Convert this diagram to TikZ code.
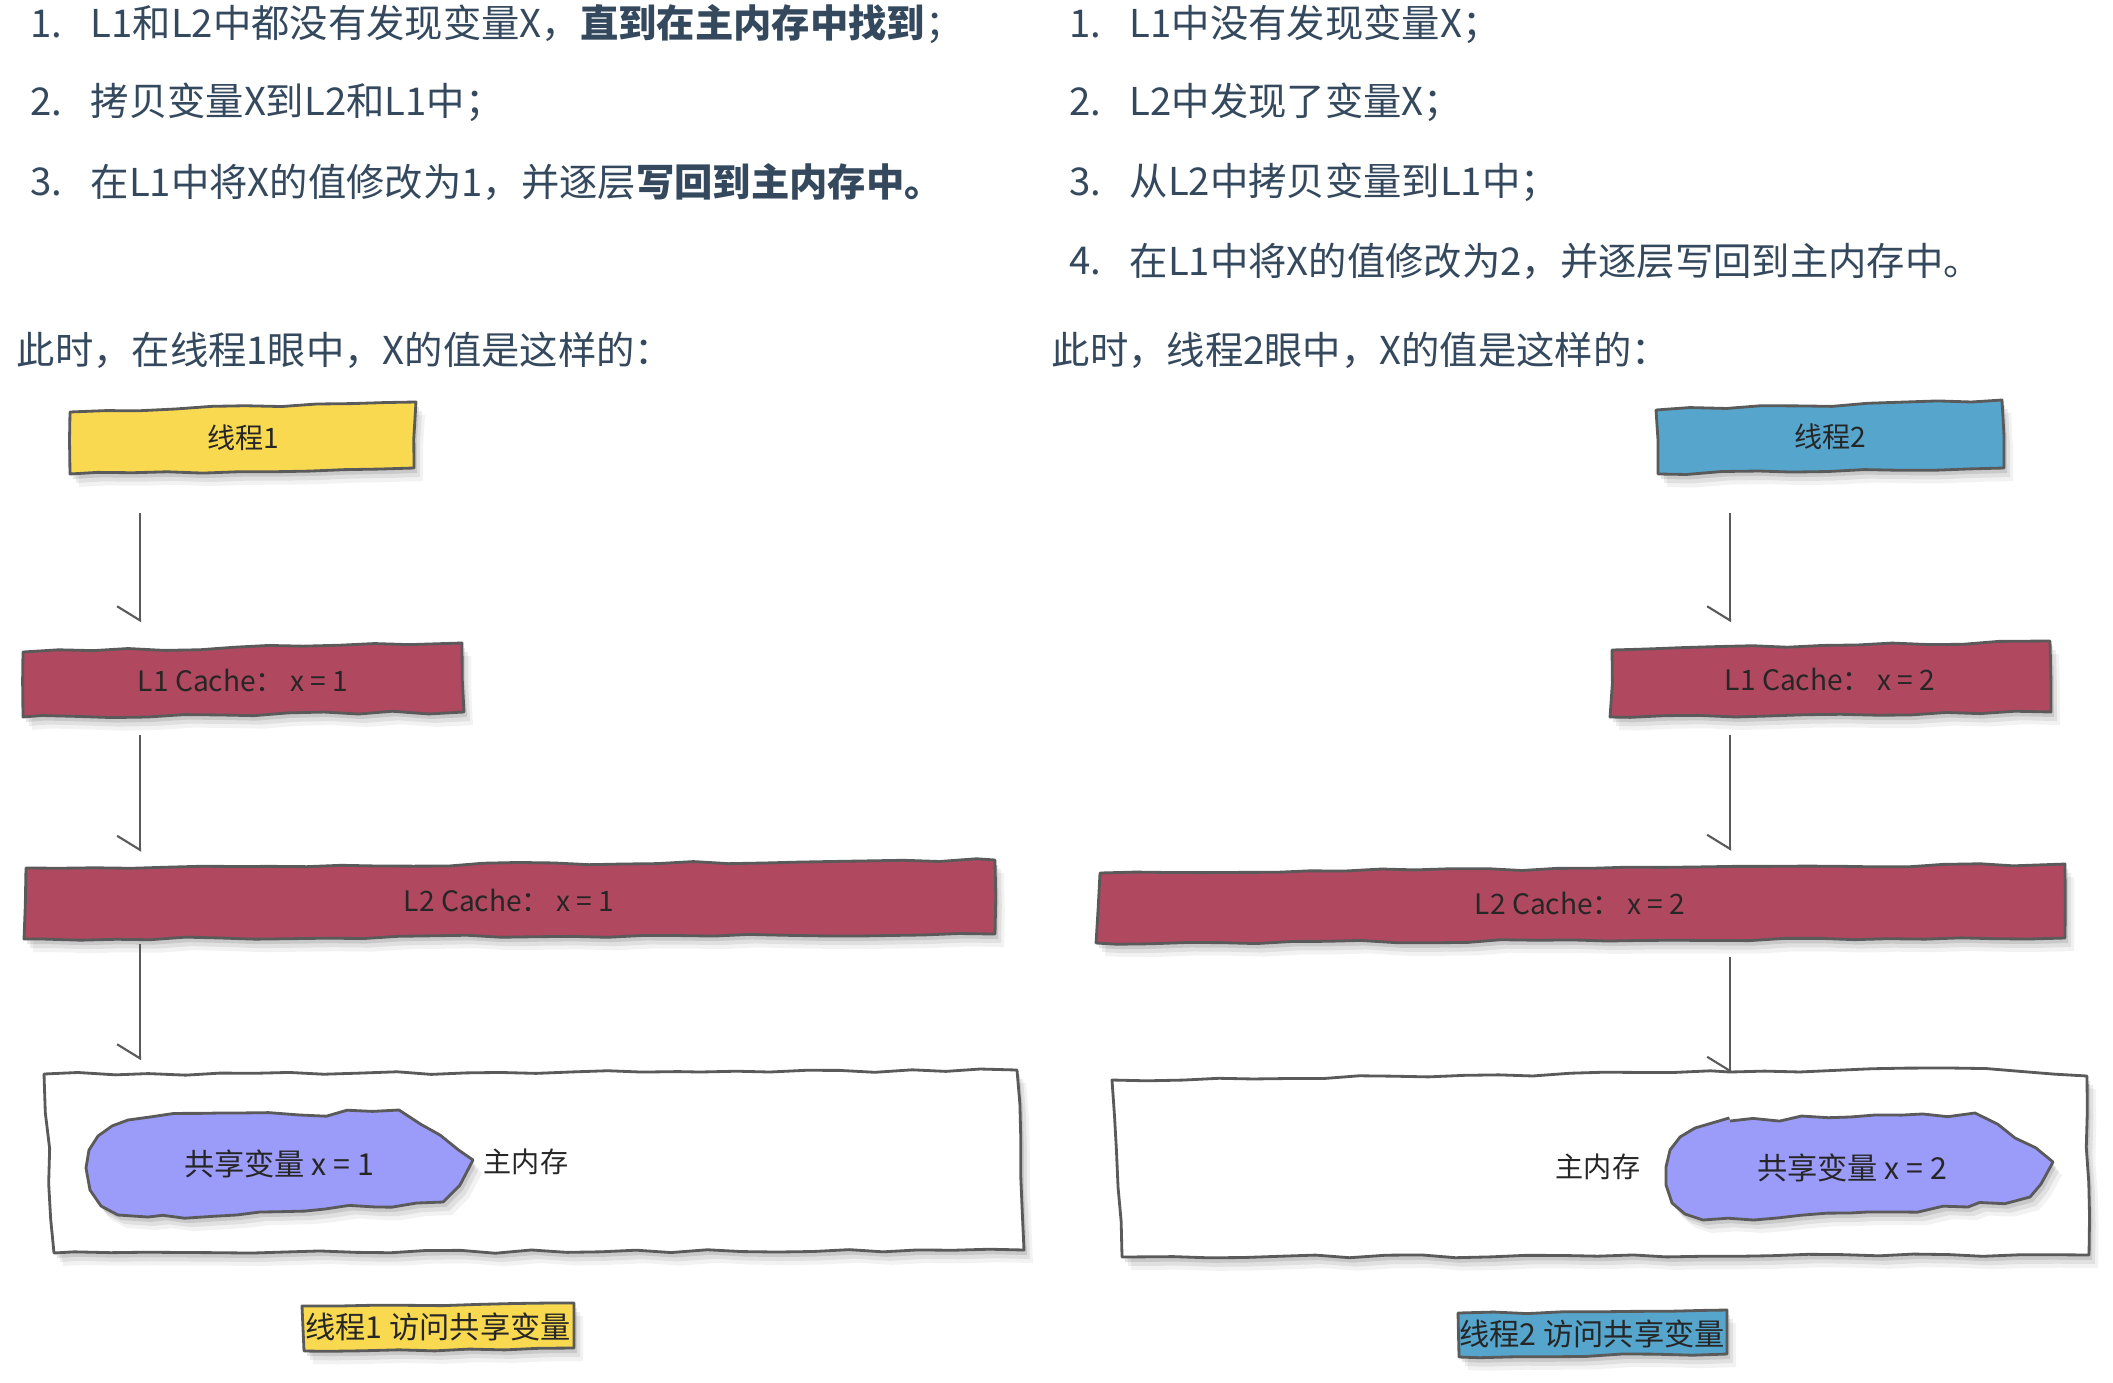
\documentclass[tikz,border=0pt]{standalone}
\usepackage{fontspec}
\setmainfont{Noto Sans CJK SC}
\usetikzlibrary{arrows.meta,calc,decorations.pathmorphing}
\definecolor{txt}{HTML}{34495E}
\definecolor{edge}{HTML}{5A5A5A}
\definecolor{yel}{HTML}{F9D94F}
\definecolor{blu}{HTML}{55A5CC}
\definecolor{crim}{HTML}{B0485F}
\definecolor{blobc}{HTML}{9B9BFA}
\definecolor{ink}{HTML}{262626}
\tikzset{
  toptext/.style={anchor=west, inner sep=0pt, text=txt, font=\fontsize{10.9}{12}\selectfont},
  boxtxt/.style={inner sep=0pt, text=ink, font=\fontsize{8}{10}\selectfont},
  captxt/.style={inner sep=0pt, text=ink, font=\fontsize{8.6}{10}\selectfont},
  shad/.style={
    preaction={fill=black,opacity=0.10,transform canvas={xshift=0.03cm,yshift=-0.05cm}},
    preaction={fill=black,opacity=0.07,transform canvas={xshift=0.06cm,yshift=-0.09cm}},
    preaction={fill=black,opacity=0.05,transform canvas={xshift=0.09cm,yshift=-0.13cm}}},
  hand/.style={draw=edge, line width=0.8pt, line join=round, decorate,
    decoration={random steps, segment length=10pt, amplitude=0.45pt}},
  rough/.style={decoration={random steps, segment length=7pt, amplitude=0.8pt}},
  harr/.style={draw=edge, line width=0.6pt, -{Straight Barb[right, length=4pt, width=13pt]}},
}
\begin{document}
\begin{tikzpicture}[x=0.01cm,y=-0.01cm]
\pgfmathsetseed{7}
\path[use as bounding box, fill=white] (0,0) rectangle (2113,1382);

% ---------- top texts, left ----------
\node[toptext] (n1) at (30,24) {1.};
\node[toptext] (s1) at (90,24) {L1和L2中都没有发现变量X，\textbf{直到在主内存中找到}；};
\node[toptext] (n2) at (30,102) {2.};
\node[toptext] (s2) at (90,102) {拷贝变量X到L2和L1中；};
\node[toptext] (n3) at (30,182) {3.};
\node[toptext] (s3) at (90,182) {在L1中将X的值修改为1，并逐层\textbf{写回到主内存中。}};
\node[toptext] (hL) at (16,350) {此时，在线程1眼中，X的值是这样的：};

% ---------- top texts, right ----------
\node[toptext] (m1) at (1069,24) {1.};
\node[toptext] (r1) at (1129,24) {L1中没有发现变量X；};
\node[toptext] (m2) at (1069,102) {2.};
\node[toptext] (r2) at (1129,102) {L2中发现了变量X；};
\node[toptext] (m3) at (1069,182) {3.};
\node[toptext] (r3) at (1129,182) {从L2中拷贝变量到L1中；};
\node[toptext] (m4) at (1069,261) {4.};
\node[toptext] (r4) at (1129,261) {在L1中将X的值修改为2，并逐层写回到主内存中。};
\node[toptext] (hR) at (1051,350) {此时，线程2眼中，X的值是这样的：};

% ---------- shapes, left ----------
\path[hand, fill=yel, shad] (70,412) -- (416,402) -- (414,468) -- (70,474) -- cycle;
\path[hand, fill=crim, shad] (23,652) -- (462,643) -- (464,712) -- (23,717) -- cycle;
\path[hand, fill=crim, shad] (26,868) -- (995,860) -- (995,934) -- (24,939) -- cycle;
\path[hand, fill=white, shad] (44,1074) -- (700,1072) -- (1017,1070) -- (1024,1250) -- (54,1253) -- cycle;
\path[hand, rough, fill=blobc, shad] (150,1117) -- (220,1113) -- (300,1115) -- (399,1110) -- (440,1135) -- (473,1160) -- (460,1185) -- (443,1202) -- (376,1207) -- (260,1212) -- (148,1217) -- (118,1215) -- (101,1206) -- (90,1190) -- (86,1168) -- (89,1150) -- (98,1136) -- (112,1126) -- (128,1120) -- cycle;
\path[hand, fill=yel, shad] (302,1306) -- (574,1303) -- (574,1348) -- (304,1351) -- cycle;

% ---------- shapes, right ----------
\path[hand, fill=blu, shad] (1656,410) -- (2002,400) -- (2004,468) -- (1658,474) -- cycle;
\path[hand, fill=crim, shad] (1612,650) -- (2050,641) -- (2051,712) -- (1610,717) -- cycle;
\path[hand, fill=crim, shad] (1100,873) -- (2065,864) -- (2065,938) -- (1096,943) -- cycle;
\path[hand, fill=white, shad] (1112,1080) -- (1730,1072) -- (1950,1068) -- (2087,1076) -- (2089,1255) -- (1122,1257) -- cycle;
\path[hand, rough, fill=blobc, shad] (1730,1121) -- (1850,1117) -- (1975,1113) -- (2015,1138) -- (2053,1162) -- (2030,1197) -- (1968,1207) -- (1850,1213) -- (1703,1220) -- (1685,1214) -- (1672,1203) -- (1666,1185) -- (1666,1167) -- (1670,1150) -- (1680,1137) -- (1695,1128) -- (1712,1123) -- cycle;
\path[hand, fill=blu, shad] (1458,1313) -- (1727,1310) -- (1727,1354) -- (1459,1357) -- cycle;

% ---------- nodes, left ----------
\node[boxtxt, minimum width=3.46cm, minimum height=0.72cm] (t1) at (243,438) {线程1};
\node[boxtxt, minimum width=4.41cm, minimum height=0.74cm] (l1L) at (243,680) {L1 Cache：\ x = 1};
\node[boxtxt, minimum width=9.71cm, minimum height=0.79cm] (l2L) at (509,900) {L2 Cache：\ x = 1};
\node[minimum width=9.84cm, minimum height=1.84cm, inner sep=0pt] (memL) at (532,1161) {};
\node[captxt] (bL) at (279,1164) {共享变量 x = 1};
\node[boxtxt] (mmL) at (526,1162) {主内存};
\node[captxt] (cL) at (438,1327) {线程1 访问共享变量};

% ---------- nodes, right ----------
\node[boxtxt, minimum width=3.49cm, minimum height=0.74cm] (t2) at (1830,437) {线程2};
\node[boxtxt, minimum width=4.41cm, minimum height=0.76cm] (l1R) at (1830,679) {L1 Cache：\ x = 2};
\node[boxtxt, minimum width=9.69cm, minimum height=0.79cm] (l2R) at (1580,903) {L2 Cache：\ x = 2};
\node[minimum width=9.80cm, minimum height=1.83cm, inner sep=0pt] (memR) at (1599,1165) {};
\node[captxt] (bR) at (1852,1168) {共享变量 x = 2};
\node[boxtxt] (mmR) at (1598,1167) {主内存};
\node[captxt] (cR) at (1592,1334) {线程2 访问共享变量};

% ---------- connectors ----------
\coordinate (axL) at (140,0);
\coordinate (axR) at (1730,0);
\draw[harr, shorten <=0.38cm, shorten >=0.2cm] (t1.south -| axL) -- (l1L.north -| axL);
\draw[harr, shorten <=0.17cm, shorten >=0.08cm] (l1L.south -| axL) -- (l2L.north -| axL);
\draw[harr, shorten <=0.04cm, shorten >=0.08cm] (l2L.south -| axL) -- (memL.north -| axL);
\draw[harr, shorten <=0.38cm, shorten >=0.18cm] (t2.south -| axR) -- (l1R.north -| axR);
\draw[harr, shorten <=0.17cm, shorten >=0.12cm] (l1R.south -| axR) -- (l2R.north -| axR);
\draw[harr, shorten <=0.14cm, shorten >=0cm] (l2R.south -| axR) -- (memR.north -| axR);
\end{tikzpicture}
\end{document}
